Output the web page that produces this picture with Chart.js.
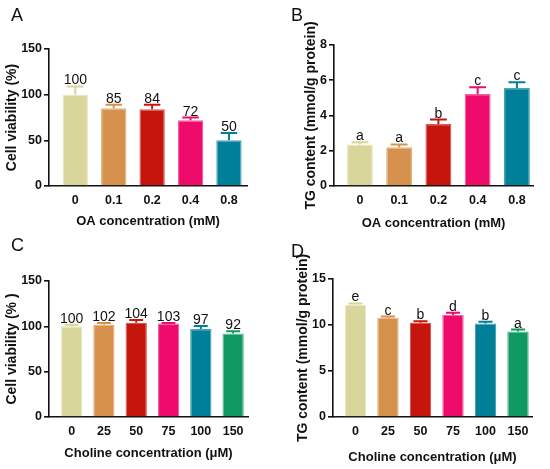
<!DOCTYPE html>
<html><head><meta charset="utf-8">
<script src="https://cdn.jsdelivr.net/npm/chart.js@4/dist/chart.umd.min.js"></script>
<style>
body{margin:0;background:#fff;width:550px;height:469px;position:relative;overflow:hidden;font-family:'Liberation Sans',Arial,sans-serif}
canvas{position:absolute}
.lt{position:absolute;font-size:18px;line-height:18px;color:#111;font-family:'Liberation Sans',Arial,sans-serif}
</style></head><body>
<canvas id="cA" width="275" height="232" style="left:0;top:0;width:275px;height:232px"></canvas>
<canvas id="cB" width="275" height="232" style="left:275px;top:0;width:275px;height:232px"></canvas>
<canvas id="cC" width="275" height="237" style="left:0;top:232px;width:275px;height:237px"></canvas>
<canvas id="cD" width="275" height="237" style="left:275px;top:232px;width:275px;height:237px"></canvas>
<div class="lt" style="left:11px;top:6px">A</div>
<div class="lt" style="left:291px;top:6px">B</div>
<div class="lt" style="left:11px;top:236px">C</div>
<div class="lt" style="left:291px;top:242px">D</div>
<script>
// ---- data ----
const oaConc = ['0', '0.1', '0.2', '0.4', '0.8'];
const cholineConc = ['0', '25', '50', '75', '100', '150'];

const viabilityOA = [100, 85, 84, 72, 50];
const viabilityOAsd = [9, 4, 5, 3, 8];
const viabilityOAlabels = ['100', '85', '84', '72', '50'];

const tgOA = [2.36, 2.2, 3.52, 5.22, 5.56];
const tgOAsd = [0.12, 0.16, 0.25, 0.38, 0.33];
const tgOAlabels = ['a', 'a', 'b', 'c', 'c'];

const viabilityCho = [100, 102, 104, 103, 97, 92];
const viabilityChosd = [1.8, 1.7, 3, 0.7, 3.4, 2.5];
const viabilityCholabels = ['100', '102', '104', '103', '97', '92'];

const tgCho = [12.2, 10.8, 10.25, 11.1, 10.15, 9.3];
const tgChosd = [0.15, 0.12, 0.15, 0.22, 0.2, 0.2];
const tgCholabels = ['e', 'c', 'b', 'd', 'b', 'a'];

// ---- styles ----
const palette = ['#d8d69a', '#d6924c', '#c5150c', '#ee0b6c', '#007f99', '#0f9a63'];
const edge = ['#e8e7bf', '#e4b07c', '#d65a52', '#f4609e', '#4aa3b6', '#5ab98f'];
const FONT = "'Liberation Sans', Arial, sans-serif";

function makePanel(id, cats, vals, sds, labels, cfg) {
  const errPlugin = {
    id: 'errbars_' + id,
    afterDatasetsDraw(chart) {
      const ctx = chart.ctx, ys = chart.scales.y;
      const meta = chart.getDatasetMeta(0);
      meta.data.forEach((bar, i) => {
        const yTop = ys.getPixelForValue(vals[i] + sds[i]);
        const cw = bar.width * 0.65;
        ctx.save();
        ctx.strokeStyle = palette[i];
        ctx.lineWidth = 2;
        ctx.beginPath();
        ctx.moveTo(bar.x, bar.y);
        ctx.lineTo(bar.x, yTop);
        ctx.moveTo(bar.x - cw / 2, yTop);
        ctx.lineTo(bar.x + cw / 2, yTop);
        ctx.stroke();
        ctx.fillStyle = '#111';
        ctx.font = '14px ' + FONT;
        ctx.textAlign = 'center';
        ctx.textBaseline = 'alphabetic';
        ctx.fillText(labels[i], bar.x, yTop - 2);
        ctx.restore();
      });
    }
  };
  new Chart(document.getElementById(id), {
    type: 'bar',
    data: {
      datasets: [{
        data: vals.map((v, i) => ({ x: i, y: v })),
        backgroundColor: palette.slice(0, vals.length),
        borderColor: edge.slice(0, vals.length),
        borderWidth: 1.2,
        barPercentage: 0.66,
        categoryPercentage: 1
      }]
    },
    options: {
      responsive: false,
      animation: false,
      layout: { padding: { top: cfg.padTop, right: cfg.padRight, left: 0, bottom: 0 } },
      plugins: { legend: { display: false }, tooltip: { enabled: false } },
      scales: {
        x: {
          type: 'linear',
          offset: false,
          min: cfg.xMin,
          max: cfg.xMax,
          afterBuildTicks: s => { s.ticks = cats.map((c, i) => ({ value: i })); },
          afterFit: s => { s.height = cfg.xHeight; },
          grid: { display: false },
          border: { display: true, color: '#111', width: 1.6 },
          ticks: {
            callback: v => cats[v],
            autoSkip: false,
            maxRotation: 0,
            padding: -1,
            color: '#111',
            font: { family: FONT, size: 12.5, weight: 'bold' }
          },
          title: {
            display: true,
            text: cfg.xTitle,
            color: '#111',
            font: { family: FONT, size: 13, weight: 'bold' },
            padding: { top: 0, bottom: cfg.xTitlePad }
          }
        },
        y: {
          min: 0,
          max: cfg.yMax,
          afterFit: s => { s.width = cfg.yWidth; },
          grid: { drawOnChartArea: false, drawTicks: true, tickLength: 5, color: '#111', lineWidth: 1.6 },
          border: { display: true, color: '#111', width: 1.6 },
          ticks: {
            stepSize: cfg.yStep,
            padding: 2,
            color: '#111',
            font: { family: FONT, size: 12.5, weight: 'bold' }
          },
          title: {
            display: true,
            text: cfg.yTitle,
            color: '#111',
            font: { family: FONT, size: 14, weight: 'bold' },
            padding: { top: cfg.yTitlePad, bottom: 0 }
          }
        }
      }
    },
    plugins: [errPlugin]
  });
}

makePanel('cA', oaConc, viabilityOA, viabilityOAsd, viabilityOAlabels, {
  padTop: 49, padRight: 28, xMin: -0.685, xMax: 4.47, xHeight: 46, yWidth: 49,
  yMax: 150, yStep: 50, xTitle: 'OA concentration (mM)', yTitle: 'Cell viability (%)',
  xTitlePad: 3, yTitlePad: 4
});
makePanel('cB', oaConc, tgOA, tgOAsd, tgOAlabels, {
  padTop: 45, padRight: 17, xMin: -0.66, xMax: 4.41, xHeight: 46, yWidth: 59,
  yMax: 8, yStep: 2, xTitle: 'OA concentration (mM)', yTitle: 'TG content (mmol/g protein)',
  xTitlePad: 1, yTitlePad: 27.5
});
makePanel('cC', cholineConc, viabilityCho, viabilityChosd, viabilityCholabels, {
  padTop: 49, padRight: 27, xMin: -0.7, xMax: 5.46, xHeight: 52, yWidth: 49,
  yMax: 150, yStep: 50, xTitle: 'Choline concentration (\u03bcM)', yTitle: 'Cell viability (% )',
  xTitlePad: 7.5, yTitlePad: 4
});
makePanel('cD', cholineConc, tgCho, tgChosd, tgCholabels, {
  padTop: 47, padRight: 18, xMin: -0.69, xMax: 5.43, xHeight: 52, yWidth: 58,
  yMax: 15, yStep: 5, xTitle: 'Choline concentration (\u03bcM)', yTitle: 'TG content (mmol/g protein)',
  xTitlePad: 3.5, yTitlePad: 19.5
});
</script>
</body></html>
